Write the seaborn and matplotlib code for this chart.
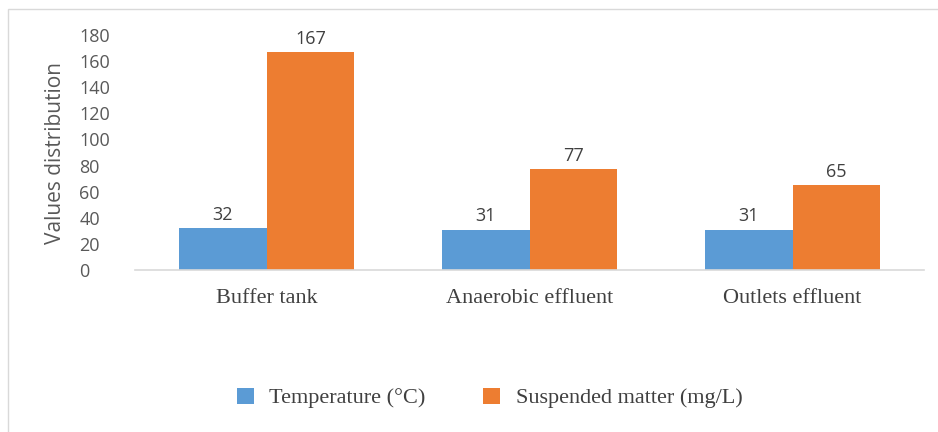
import pandas as pd
import matplotlib.pyplot as plt
import seaborn as sns
from matplotlib.patches import Rectangle

# Chart data
sites = ['Buffer tank', 'Anaerobic effluent', 'Outlets effluent']
temperature = [32, 31, 31]
suspended = [167, 77, 65]
series_names = ['Temperature (°C)', 'Suspended matter (mg/L)']
y_ticks = [0, 20, 40, 60, 80, 100, 120, 140, 160, 180]

df = pd.DataFrame({
    'Site': sites * 2,
    'Value': temperature + suspended,
    'Series': [series_names[0]] * 3 + [series_names[1]] * 3,
})

sns.set_theme(style="white")
plt.rcParams['font.family'] = ['Open Sans', 'DejaVu Sans']

fig = plt.figure(figsize=(9.38, 4.32), dpi=100)
ax = fig.add_axes([135 / 938, 1 - 270 / 432, 789 / 938, 235 / 432])

palette = {series_names[0]: '#5B9BD5', series_names[1]: '#ED7D31'}
sns.barplot(ax=ax, data=df, x='Site', y='Value', hue='Series', order=sites,
            hue_order=series_names, palette=palette, width=0.667,
            saturation=1, edgecolor='none', linewidth=0)

# value labels on bars
for cont in ax.containers:
    ax.bar_label(cont, fmt='%d', padding=3, fontsize=13, color='#404040')

ax.set_xlim(-0.5, 2.5)
ax.set_ylim(0, 180)
ax.set_yticks(y_ticks)
ax.set_yticklabels([str(t) for t in y_ticks], fontsize=13, color='#595959')
for lbl in ax.get_yticklabels():
    lbl.set_ha('left')
ax.tick_params(axis='y', length=0, pad=40)
ax.tick_params(axis='x', length=0, pad=14)
for lbl in ax.get_xticklabels():
    lbl.set_fontfamily('Liberation Serif')
    lbl.set_fontsize(16)
    lbl.set_color('#404040')

ax.set_xlabel('')
ax.set_ylabel('Values distribution', fontsize=15, color='#595959', labelpad=10)

for side in ['top', 'right', 'left']:
    ax.spines[side].set_visible(False)
ax.spines['bottom'].set_color('#D9D9D9')
ax.spines['bottom'].set_linewidth(1.2)

handles, labels = ax.get_legend_handles_labels()
ax.legend_.remove()
fig.legend(handles, labels, loc='center', bbox_to_anchor=(0.522, 1 - 398 / 432),
           ncol=2, frameon=False, prop={'family': 'Liberation Serif', 'size': 16},
           labelcolor='#404040', handlelength=0.75, handleheight=0.75,
           columnspacing=2.6, handletextpad=0.7)

# light border (left and top edges visible, as in the cropped source)
fig.patches.append(Rectangle((8 / 938, -0.1), 1.0, 1.1 - 9 / 432,
                             transform=fig.transFigure, fill=False,
                             edgecolor='#D9D9D9', linewidth=1))

plt.savefig('out.png', dpi=100)
plt.close()
